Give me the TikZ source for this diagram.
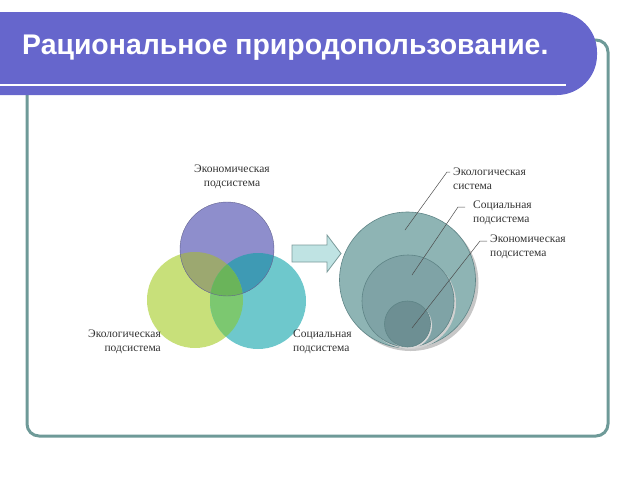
\documentclass[tikz,border=0pt]{standalone}
\usepackage{fontspec}
\setmainfont{Liberation Serif}
\newfontfamily\headfont{Liberation Sans}

\definecolor{bannercol}{HTML}{6666CC}
\definecolor{framecol}{HTML}{6E9A98}
\definecolor{econcol}{HTML}{8E8ECC}
\definecolor{ecocol}{HTML}{C8E07A}
\definecolor{soccol}{HTML}{6EC8CC}
\definecolor{econeco}{HTML}{9CA870}
\definecolor{econsoc}{HTML}{3E9AB4}
\definecolor{ecosoc}{HTML}{7CC870}
\definecolor{allthree}{HTML}{6AB45A}
\definecolor{arrowfill}{HTML}{BFE3E3}
\definecolor{arrowrim}{HTML}{7A9A9A}
\definecolor{bigfill}{HTML}{8EB4B4}
\definecolor{midfill}{HTML}{7FA3A6}
\definecolor{smallfill}{HTML}{6D8F93}
\definecolor{rimcol}{HTML}{5E8486}
\definecolor{labelcol}{HTML}{333333}

\begin{document}
\begin{tikzpicture}[x=1pt, y=-1pt,
    lbl/.style={font=\fontsize{11.5}{13.5}\selectfont, text=labelcol, inner sep=0pt},
    ring/.style={draw=rimcol, line width=0.6pt},
    leader/.style={draw=black!70, line width=0.5pt}]
    \useasboundingbox (0,0) rectangle (640,480);

    \draw[framecol, line width=3pt, rounded corners=12pt] (27,40) rectangle (608,436);

    \fill[bannercol, rounded corners=40pt] (-60,12) rectangle (597,95);
    \draw[white, line width=2pt] (0,85) -- (566,85);
    \node[anchor=west, inner sep=0pt, text=white,
      font=\headfont\bfseries\fontsize{28.4}{32}\selectfont] (title) at (22,48)
      {Рациональное природопользование.};

    \coordinate (econ) at (227,249);
    \coordinate (eco) at (195,300);
    \coordinate (soc) at (258,301);

    \fill[ecocol] (eco) circle (48);
    \fill[soccol] (soc) circle (48);
    \fill[econcol] (econ) circle (47);
    \begin{scope}
      \clip (econ) circle (47);
      \fill[econeco] (eco) circle (48);
      \fill[econsoc] (soc) circle (48);
    \end{scope}
    \begin{scope}
      \clip (eco) circle (48);
      \fill[ecosoc] (soc) circle (48);
      \clip (econ) circle (47);
      \fill[allthree] (soc) circle (48);
    \end{scope}
    \draw[line width=0.4pt]
    (econ) [draw=econcol!70!black] circle (47)
    ;

    \node[lbl, align=center] (econlbl) at (232,177) {Экономическая\\подсистема};
    \node[lbl, align=right, anchor=east] (ecolbl) at (161,342) {Экологическая\\подсистема};
    \node[lbl, align=left, anchor=west] (soclbl) at (293,342) {Социальная\\подсистема};

    \filldraw[fill=arrowfill, draw=arrowrim, line width=0.8pt]
    (292,245) -- (327,245) -- (327,235) -- (341,253.5) -- (327,272) -- (327,262) -- (292,262) -- cycle
    ;

    \coordinate (big) at (407.5,280);
    \coordinate (mid) at (408,301);
    \coordinate (small) at (407.5,324);

    \fill[black!22] ([shift={(3,3)}]big) circle (68);
    \filldraw[ring, fill=bigfill] (big) circle (68);
    \fill[black!18] ([shift={(2,2)}]mid) circle (46);
    \filldraw[ring, fill=midfill] (mid) circle (46);
    \fill[black!15] ([shift={(1.5,1.5)}]small) circle (23);
    \filldraw[ring, fill=smallfill] (small) circle (23);

    \node[lbl, align=left, anchor=north west] (syslbl) at (453,168) {Экологическая\\система};
    \node[lbl, align=left, anchor=north west] (subsoclbl) at (473,201) {Социальная\\подсистема};
    \node[lbl, align=left, anchor=north west] (subeconlbl) at (490,235) {Экономическая\\подсистема};

    \coordinate (p1) at (405,230);
    \coordinate (p2) at (412,275);
    \coordinate (p3) at (412,328);

    \draw[leader]
    (p1) -- ([xshift=-6pt,yshift=-4pt]syslbl.north west) -- ([xshift=-3pt,yshift=-4pt]syslbl.north west)
    (p2) -- ([xshift=-15pt,yshift=-6pt]subsoclbl.north west) -- ([xshift=-8pt,yshift=-6pt]subsoclbl.north west)
    (p3) -- ([xshift=-10pt,yshift=-6pt]subeconlbl.north west) -- ([xshift=-3pt,yshift=-6pt]subeconlbl.north west)
    ;

  \end{tikzpicture}
\end{document}
